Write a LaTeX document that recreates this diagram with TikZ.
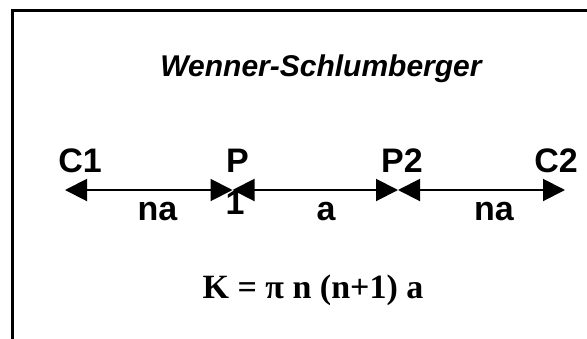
\documentclass[tikz,border=0pt]{standalone}
\usepackage{fontspec}
\setmainfont{Liberation Serif}
\newfontfamily\arialfont{Liberation Sans}
\usetikzlibrary{arrows.meta}
\tikzset{
  lbl/.style={font=\arialfont\bfseries\fontsize{34}{38}\selectfont, anchor=base, inner sep=0pt},
  ttl/.style={font=\arialfont\bfseries\itshape\fontsize{30}{34}\selectfont, anchor=base, inner sep=0pt},
  frm/.style={font=\bfseries\fontsize{34}{38}\selectfont, anchor=base, inner sep=0pt},
  dim/.style={line width=2pt, {Triangle[length=22pt,width=22pt]}-{Triangle[length=22pt,width=22pt]}},
  frame/.style={line width=3pt, line cap=rect}
}
\begin{document}
\begin{tikzpicture}[x=1pt,y=-1pt]
\useasboundingbox (0,0) rectangle (587,338);
\fill[white] (0,0) rectangle (587,338);
\draw[frame] (12,345) -- (12,10) -- (595,10);
\node[ttl] (title) at (321,76) {Wenner-Schlumberger};
\node[lbl] (lc1) at (80,172) {C1};
\node[lbl] (lp) at (237.5,172) {P};
\node[lbl] (lp2) at (402,172) {P2};
\node[lbl] (lc2) at (556,172) {C2};
\node[lbl] (lone) at (235,214) {1};
\node[lbl] (na1) at (157.5,220) {na};
\node[lbl] (aa) at (326,220) {a};
\node[lbl] (na2) at (494,220) {na};
\coordinate (c1) at (65,190);
\coordinate (p1) at (232.5,190);
\coordinate (p2) at (398,190);
\coordinate (c2) at (565,190);
\draw[dim] (c1) -- (p1);
\draw[dim] (p1) -- (p2);
\draw[dim] (p2) -- (c2);
\node[frm] (k) at (313,298) {K = π n (n+1) a};
\end{tikzpicture}
\end{document}
